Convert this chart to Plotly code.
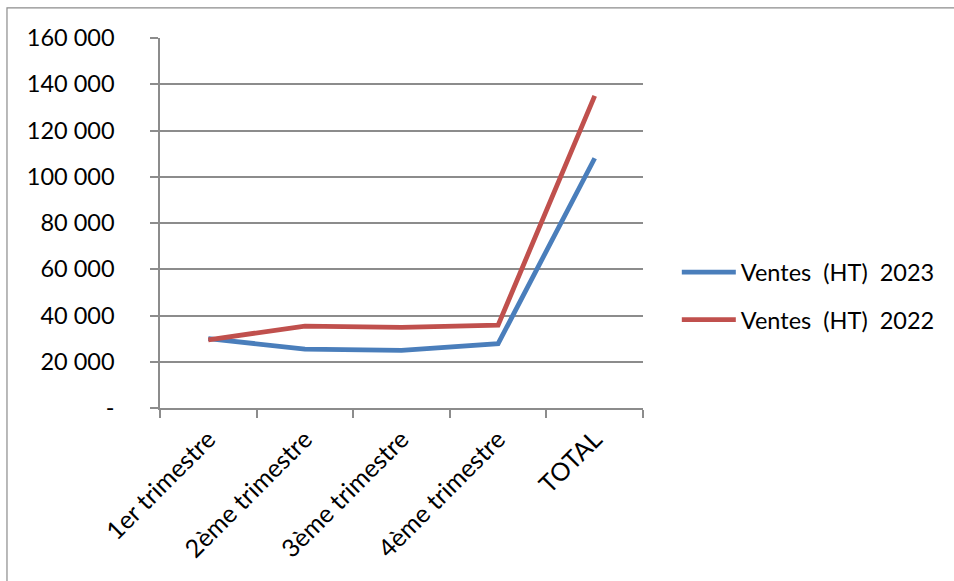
import plotly.graph_objects as go

categories = ["1er trimestre", "2ème trimestre", "3ème trimestre", "4ème trimestre", "TOTAL"]
ventes_2023 = [30000, 25500, 24900, 27800, 108000]
ventes_2022 = [29500, 35400, 34900, 35800, 135000]
series_names = ["Ventes\u00a0 (HT)\u00a0 2023", "Ventes\u00a0 (HT)\u00a0 2022"]
y_tick_vals = [0, 20000, 40000, 60000, 80000, 100000, 120000, 140000, 160000]
y_tick_text = ["-", "20 000", "40 000", "60 000", "80 000", "100 000", "120 000", "140 000", "160 000"]

FONT = "Lato, 'Open Sans', sans-serif"
GRID = "#8c8c8c"
FS = 23.5

fig = go.Figure()
fig.add_trace(go.Scatter(x=categories, y=ventes_2023, mode="lines", name=series_names[0],
                         line=dict(color="#4a7ebb", width=4.8), legendgroup="a"))
fig.add_trace(go.Scatter(x=categories, y=ventes_2022, mode="lines", name=series_names[1],
                         line=dict(color="#c0504d", width=4.8), legendgroup="b"))

fig.update_layout(
    width=954, height=581,
    margin=dict(l=160, r=311, t=38, b=173, autoexpand=False),
    paper_bgcolor="white", plot_bgcolor="white",
    font=dict(family=FONT, size=FS, color="#000000"),
    showlegend=True,
    legend=dict(x=1.07, y=0.302, xanchor="left", yanchor="middle",
                font=dict(family=FONT, size=FS, color="#000000"),
                itemwidth=54,
                tracegroupgap=14, traceorder="grouped", bgcolor="rgba(0,0,0,0)"),
    xaxis=dict(
        type="category", tickson="boundaries", ticks="outside", ticklen=8, tickcolor=GRID,
        tickwidth=1.5, showline=True, linecolor=GRID, linewidth=1.5, showgrid=False,
        tickangle=-45, range=[-0.5, 4.5], zeroline=False,
        ticklabelstandoff=5,
        tickfont=dict(family=FONT, size=25, color="#000000"),
    ),
    yaxis=dict(
        range=[0, 160000], tickvals=y_tick_vals, ticktext=y_tick_text,
        ticks="outside", ticklen=8, tickcolor=GRID, tickwidth=1.5,
        showline=True, linecolor=GRID, linewidth=1.5,
        showgrid=True, gridcolor=GRID, gridwidth=1.5, zeroline=False,
        ticklabelstandoff=31,
        tickfont=dict(family=FONT, size=FS, color="#000000"),
    ),
    shapes=[dict(type="rect", xref="paper", yref="paper",
                 x0=-0.3168, x1=2.0, y0=-1.0, y1=1.0812,
                 line=dict(color="#8c8c8c", width=1.2), fillcolor="rgba(0,0,0,0)", layer="below")],
)

fig.write_html("out.html")
